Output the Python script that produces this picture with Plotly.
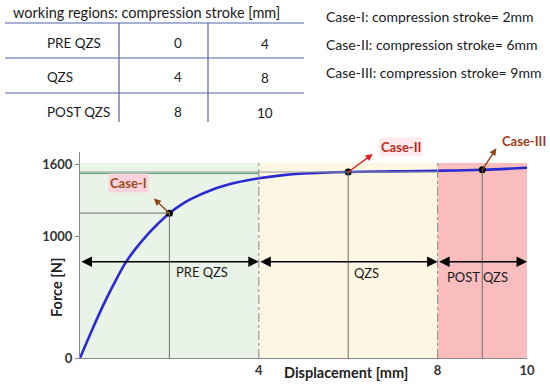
import numpy as np
import plotly.graph_objects as go

# ---------------- data ----------------
disp = [0, 0.25, 0.5, 0.75, 1.0, 1.25, 1.5, 1.75, 2.0, 2.25, 2.5, 3.0, 3.5, 4.0,
        4.5, 5.0, 6.0, 7.0, 8.0, 9.0, 10.0]
force = [0, 215, 420, 605, 775, 905, 1015, 1110, 1195, 1262, 1315, 1395, 1448, 1483,
         1507, 1522, 1535, 1540, 1545, 1553, 1570]

case_names = ["Case-I", "Case-II", "Case-III"]
case_stroke = [2, 6, 9]
case_force = [float(np.interp(s, disp, force)) for s in case_stroke]

region_names = ["PRE QZS", "QZS", "POST QZS"]
region_start = [0, 4, 8]
region_end = [4, 8, 10]
region_colors = ["#eaf3e7", "#fdf6e3", "#f9bdbd"]

ref_green = 1524
ref_grey = 1535
region_top = 1610
arrow_level = 795

table_title = "working regions: compression stroke [mm]"
case_lines = ["Case-I: compression stroke= 2mm",
              "Case-II: compression stroke= 6mm",
              "Case-III: compression stroke= 9mm"]

xtick_vals = [4, 8, 10]
ytick_vals = [0, 1000, 1600]

# ---------------- layout helpers (pixel -> paper) ----------------
W, H = 550, 387
L, R = 80, 527
T, B = 152, 358
def px(x):
    return (x - L) / (R - L)
def py(y):
    return (B - y) / (B - T)

FONT = "Lato"
fig = go.Figure()

shapes = []
for s, e, c in zip(region_start, region_end, region_colors):
    shapes.append(dict(type="rect", xref="x", yref="y", x0=s, x1=e, y0=0, y1=region_top,
                       fillcolor=c, line=dict(width=0), layer="below"))
shapes.append(dict(type="line", xref="x", yref="y", x0=0, x1=8, y0=ref_grey, y1=ref_grey,
                   line=dict(color="#9a9a9a", width=1.2)))
shapes.append(dict(type="line", xref="x", yref="y", x0=0, x1=4, y0=ref_green, y1=ref_green,
                   line=dict(color="#5aa77a", width=1.2)))
for b in region_start[1:]:
    shapes.append(dict(type="line", xref="x", yref="y", x0=b, x1=b, y0=0, y1=region_top,
                       line=dict(color="#9a9a9a", width=1.2, dash="dashdot")))
for s, f in zip(case_stroke, case_force):
    shapes.append(dict(type="line", xref="x", yref="y", x0=s, x1=s, y0=0, y1=f,
                       line=dict(color="#6e6e6e", width=1)))
shapes.append(dict(type="line", xref="x", yref="y", x0=0, x1=case_stroke[0],
                   y0=case_force[0], y1=case_force[0], line=dict(color="#8a8a8a", width=1.2)))

tcol = "#5562ad"
for yy in [23, 58, 93]:
    shapes.append(dict(type="line", xref="paper", yref="paper", x0=px(5), x1=px(304),
                       y0=py(yy), y1=py(yy), line=dict(color=tcol, width=1.2)))
for xx in [119, 208]:
    shapes.append(dict(type="line", xref="paper", yref="paper", x0=px(xx), x1=px(xx),
                       y0=py(23), y1=py(122), line=dict(color=tcol, width=1.2)))

fig.add_trace(go.Scatter(x=disp, y=force, mode="lines",
                         line=dict(color="#2a2ad2", width=2.6, shape="spline"),
                         hoverinfo="skip", showlegend=False))
fig.add_trace(go.Scatter(x=case_stroke, y=case_force, mode="markers",
                         marker=dict(color="black", size=7), showlegend=False))

ann = []
def text_ann(x, y, text, size, color="#1a1a1a", xanchor="center", **kw):
    d = dict(x=px(x), y=py(y), xref="paper", yref="paper", text=text, showarrow=False,
             xanchor=xanchor, yanchor="middle",
             font=dict(family=FONT, size=size, color=color))
    d.update(kw)
    return d

for s, e in zip(region_start, region_end):
    ann.append(dict(x=e, y=arrow_level, ax=s, ay=arrow_level, xref="x", yref="y",
                    axref="x", ayref="y", text="", showarrow=True, arrowhead=2,
                    startarrowhead=2, arrowside="end+start", arrowsize=1.4,
                    arrowwidth=1.5, arrowcolor="black"))
label_pos = [(202, 272), (366, 273), (477, 277)]
for name, (lx, ly) in zip(region_names, label_pos):
    ann.append(text_ann(lx, ly, name, 13))

case_off = [(-17, -16), (26, -19), (15, -23)]
case_arrow_col = ["#8b4513", "#e02020", "#8b4513"]
case_text_pos = [(128, 183), (401, 147), (524, 141)]
case_text_col = ["#9a4a1a", "#c0281a", "#a03a1a"]
case_bg = ["#fbd3dc", "rgba(255,225,230,0.7)", "rgba(0,0,0,0)"]
for i in range(3):
    ann.append(dict(x=case_stroke[i], y=case_force[i], xref="x", yref="y",
                    ax=case_off[i][0], ay=case_off[i][1], text="", showarrow=True,
                    arrowside="start", arrowhead=2, startarrowhead=2, arrowsize=1.3,
                    arrowwidth=1.4, arrowcolor=case_arrow_col[i]))
    ann.append(text_ann(case_text_pos[i][0], case_text_pos[i][1],
                        "<b>%s</b>" % case_names[i], 13, color=case_text_col[i],
                        bgcolor=case_bg[i], borderpad=1))

ann.append(text_ann(346, 372, "<b>Displacement [mm]</b>", 14.5, color="#222"))
ann.append(text_ann(56, 288, "<b>Force [N]</b>", 14.5, color="#222", textangle=-90))

ann.append(text_ann(146, 12, table_title, 14.5))
row_y = [43, 77, 112]
for name, s, e, yy in zip(region_names, region_start, region_end, row_y):
    ann.append(text_ann(45, yy, name, 13.5, xanchor="left"))
    ann.append(text_ann(178, yy, str(s), 13.5))
    ann.append(text_ann(265, yy + 1, str(e), 13.5))
for txt, yy in zip(case_lines, [16, 44, 73]):
    ann.append(text_ann(324, yy, txt, 14, xanchor="left"))

fig.update_layout(
    width=W, height=H,
    margin=dict(l=L, r=W - R, t=T, b=H - B, pad=0),
    paper_bgcolor="white", plot_bgcolor="white",
    shapes=shapes, annotations=ann, showlegend=False,
    xaxis=dict(range=[0, 10], showgrid=False, zeroline=False, showline=True,
               linecolor="#8a8a8a", linewidth=1.2, tickvals=xtick_vals,
               ticktext=["<b>%d</b>" % v for v in xtick_vals], ticks="",
               tickfont=dict(family=FONT, size=13, color="#333"), automargin=False),
    yaxis=dict(range=[0, 1700], showgrid=False, zeroline=False, showline=True,
               linecolor="#8a8a8a", linewidth=1.2, tickvals=ytick_vals,
               ticktext=["<b>%d</b>" % v for v in ytick_vals], ticks="outside",
               ticklen=4, tickcolor="#8a8a8a",
               tickfont=dict(family=FONT, size=13, color="#333"), automargin=False),
)

fig.write_html("out.html", config={"displayModeBar": False},
               post_script="document.body.style.margin='0px';document.body.style.overflow='hidden';")
